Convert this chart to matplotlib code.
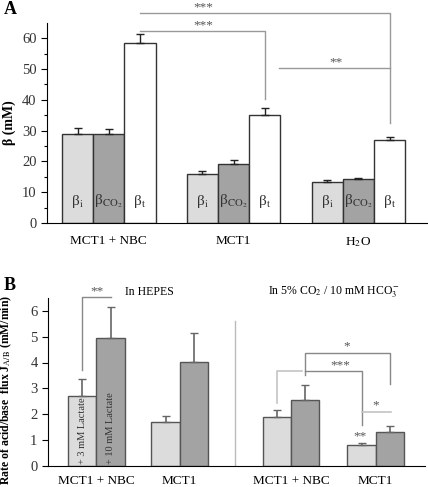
import numpy as np
import matplotlib.pyplot as plt

plt.rcParams['font.family'] = ['Liberation Serif', 'DejaVu Serif']
plt.rcParams['mathtext.fontset'] = 'stix'

# Panel A: buffer capacities
groups_a = ['MCT1 + NBC', 'MCT1', 'H$_2$O']
beta_i = [29.0, 16.0, 13.3]
beta_i_err = [1.7, 0.8, 0.7]
beta_co2 = [29.0, 19.1, 14.2]
beta_co2_err = [1.5, 1.2, 0.4]
beta_t = [58.3, 35.0, 27.0]
beta_t_err = [3.0, 2.3, 1.0]

# Panel B: acid/base flux
groups_b = ['MCT1 + NBC', 'MCT1', 'MCT1 + NBC', 'MCT1']
lact3 = [2.70, 1.68, 1.90, 0.79]
lact3_err = [0.65, 0.24, 0.25, 0.10]
lact10 = [4.94, 4.02, 2.56, 1.30]
lact10_err = [1.23, 1.13, 0.56, 0.22]

light = '#dcdcdc'
dark = '#a3a3a3'
line_c = '#999999'

fig = plt.figure(figsize=(4.28, 4.87), dpi=100)

# ---------- panel A ----------
ax = fig.add_axes([47/428, 1-223/487, 380/428, 200.3/487])
xa = np.arange(3) * 4.0
labels_a = ['β$_{\\rm i}$', 'β$_{\\rm CO_2}$', 'β$_{\\rm t}$']
for off, vals, errs, col, lab in [(0.5, beta_i, beta_i_err, light, labels_a[0]),
                                  (1.5, beta_co2, beta_co2_err, dark, labels_a[1]),
                                  (2.5, beta_t, beta_t_err, 'white', labels_a[2])]:
    ax.bar(xa + off, vals, width=1.0, color=col, edgecolor='#333333', linewidth=1.0)
    ax.errorbar(xa + off, vals, yerr=[np.zeros(3), errs], fmt='none',
                ecolor='#222222', elinewidth=1.0, capsize=3, capthick=1.0)
    for xx in xa + off:
        ax.text(xx, 7, lab, ha='center', va='center', fontsize=11, color='#333333')

ax.set_xlim(-0.48, 11.7)
ax.set_ylim(0, 65)
ax.set_xticks(xa + 1.5)
ax.set_xticklabels(groups_a, fontsize=9.5)
ax.tick_params(axis='x', length=0, pad=9)
ax.set_yticks(np.arange(0, 61, 10))
ax.set_yticks(np.arange(5, 65, 10), minor=True)
ax.tick_params(axis='y', labelsize=10.5, length=4, width=0.8, labelcolor='#333333')
ax.tick_params(axis='y', which='minor', length=2.5, width=0.8)
ax.spines['top'].set_visible(False)
ax.spines['right'].set_visible(False)
ax.set_ylabel('β (mM)', fontsize=10, fontweight='bold', labelpad=4)

# significance brackets
ax.plot([2.5, 10.5, 10.5], [68, 68, 32.5], color=line_c, lw=1, clip_on=False)
ax.plot([2.5, 6.5, 6.5], [62.2, 62.2, 40.3], color=line_c, lw=1, clip_on=False)
ax.plot([6.95, 10.5], [50.3, 50.3], color=line_c, lw=1, clip_on=False)
ax.text(4.52, 68.0, '***', ha='center', va='bottom', fontsize=9.5, color='#555555')
ax.text(4.52, 62.2, '***', ha='center', va='bottom', fontsize=9.5, color='#555555')
ax.text(8.77, 50.3, '**', ha='center', va='bottom', fontsize=9.5, color='#555555')

fig.text(4/428, 1-9/487, 'A', fontsize=13, fontweight='bold', ha='left', va='center')

# ---------- panel B ----------
bx = fig.add_axes([48/428, 1-465.7/487, 377/428, 167.7/487])
xb = np.array([0.0, 2.95, 6.9, 9.9])
bx.bar(xb + 0.5, lact3, width=1.0, color=light, edgecolor='#555555', linewidth=1.0)
bx.bar(xb + 1.5, lact10, width=1.0, color=dark, edgecolor='#555555', linewidth=1.0)
bx.errorbar(xb + 0.5, lact3, yerr=[np.zeros(4), lact3_err], fmt='none',
            ecolor='#666666', elinewidth=1.2, capsize=3, capthick=1.0)
bx.errorbar(xb + 1.5, lact10, yerr=[np.zeros(4), lact10_err], fmt='none',
            ecolor='#666666', elinewidth=1.2, capsize=3, capthick=1.0)

bx.text(xb[0] + 0.5, 0.08, '+ 3 mM Lactate', rotation=90, ha='center', va='bottom',
        fontsize=7.5, color='#333333')
bx.text(xb[0] + 1.5, 0.08, '+ 10 mM Lactate', rotation=90, ha='center', va='bottom',
        fontsize=7.5, color='#333333')

bx.set_xlim(-0.72, 12.65)
bx.set_ylim(0, 6.5)
bx.set_xticks(xb + 1.0)
bx.set_xticklabels(groups_b, fontsize=9.5)
bx.tick_params(axis='x', length=0, pad=7)
bx.set_yticks(np.arange(0, 7, 1))
bx.tick_params(axis='y', labelsize=10.5, length=4, width=0.8, labelcolor='#333333')
bx.spines['top'].set_visible(False)
bx.spines['right'].set_visible(False)
bx.set_ylabel('Rate of acid/base  flux J$_{\\rm A/B}$ (mM/min)', fontsize=8.5,
              fontweight='bold', labelpad=5)
bx.yaxis.set_label_coords(-0.09, 0.45)

bx.plot([5.92, 5.92], [0, 5.62], color='#bbbbbb', lw=1)
bx.text(2.86, 6.72, 'In HEPES', ha='center', va='center', fontsize=8.5, clip_on=False)
bx.text(9.42, 6.75, 'In 5% CO$_2$ / 10 mM HCO$_3^-$', ha='center', va='center',
        fontsize=8.5, clip_on=False)

sig_c = '#888888'
pale_c = '#c4c4c4'
bx.plot([0.5, 0.5, 1.5], [3.7, 6.53, 6.53], color=sig_c, lw=1, clip_on=False)
bx.text(1.0, 6.53, '**', ha='center', va='bottom', fontsize=9.5, color='#555555')
bx.plot([7.4, 7.4, 8.3], [2.43, 3.67, 3.67], color=pale_c, lw=1.2)
bx.plot([8.4, 8.4, 11.4, 11.4], [3.5, 4.38, 4.38, 3.18], color=sig_c, lw=1)
bx.text(9.87, 4.38, '*', ha='center', va='bottom', fontsize=9.5, color='#555555')
bx.plot([8.4, 10.4, 10.4], [3.67, 3.67, 1.57], color=sig_c, lw=1)
bx.text(9.63, 3.67, '***', ha='center', va='bottom', fontsize=9.5, color='#555555')
bx.plot([10.4, 11.43], [2.1, 2.1], color=pale_c, lw=1.2)
bx.text(10.89, 2.1, '*', ha='center', va='bottom', fontsize=9.5, color='#555555')
bx.text(10.35, 0.92, '**', ha='center', va='bottom', fontsize=9.5, color='#555555')

fig.text(4/428, 1-285/487, 'B', fontsize=13, fontweight='bold', ha='left', va='center')

fig.savefig('out.png', dpi=100)
